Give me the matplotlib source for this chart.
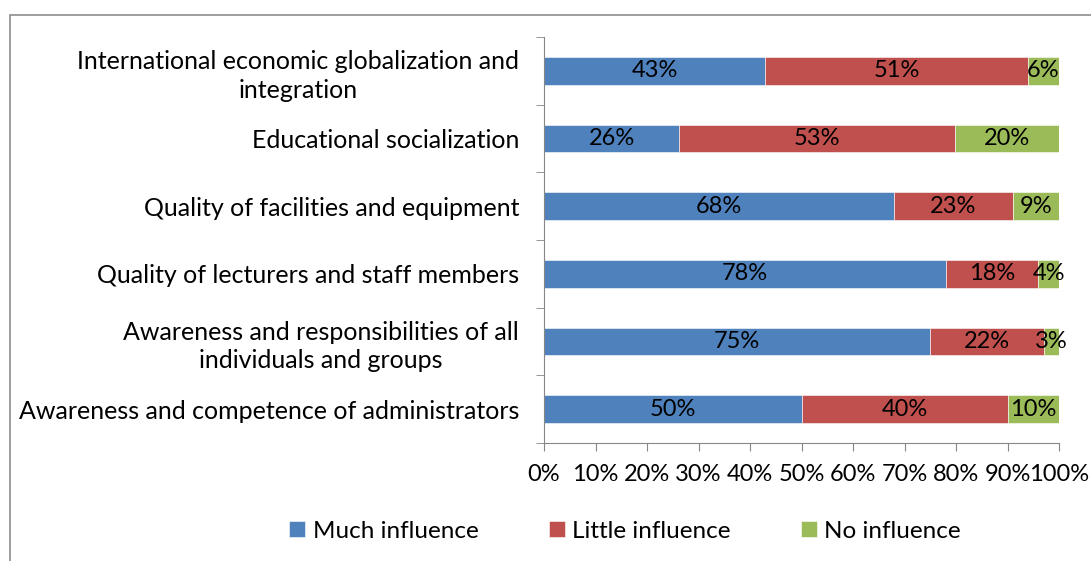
import matplotlib
matplotlib.use('Agg')
import matplotlib.pyplot as plt
import numpy as np
from matplotlib.patches import Rectangle

# categories, top to bottom as in the chart
categories = [
    'International economic globalization and\nintegration',
    'Educational socialization',
    'Quality of facilities and equipment',
    'Quality of lecturers and staff members',
    'Awareness and responsibilities of all\nindividuals and groups',
    'Awareness and competence of administrators',
]
much = [43, 26, 68, 78, 75, 50]
little = [51, 53, 23, 18, 22, 40]
none_ = [6, 20, 9, 4, 3, 10]
series_names = ['Much influence', 'Little influence', 'No influence']
colors = ['#4F81BD', '#C0504D', '#9BBB59']
xtick_labels = ['0%', '10%', '20%', '30%', '40%', '50%', '60%', '70%', '80%', '90%', '100%']

plt.rcParams['font.family'] = ['Lato', 'DejaVu Sans']
FS = 17

fig = plt.figure(figsize=(10.91, 5.61), dpi=100)
ax = fig.add_axes([544 / 1091, 118 / 561, 515 / 1091, 406 / 561])

# outer chart border (only top and left visible in the picture)
fig.patches.append(Rectangle((10 / 1091, -0.5), 2, 0.5 + (1 - 15 / 561),
                             transform=fig.transFigure, fill=False,
                             edgecolor='#8C8C8C', linewidth=1.2))

vals = np.array([much, little, none_], dtype=float)
tot = vals.sum(axis=0)
shares = vals / tot * 100
y = np.arange(len(categories))
left = np.zeros(len(categories))
for i in range(3):
    bars = ax.barh(y, shares[i], left=left, height=0.41, color=colors[i],
                   label=series_names[i], edgecolor='white', linewidth=0.4)
    for j, b in enumerate(bars):
        ax.text(left[j] + shares[i][j] / 2, y[j], '%d%%' % vals[i][j],
                ha='center', va='center', fontsize=FS, color='black')
    left += shares[i]

ax.set_xlim(0, 100)
ax.set_ylim(len(categories) - 0.5, -0.5)
ax.set_xticks(np.arange(0, 101, 10))
ax.set_xticklabels(xtick_labels, fontsize=FS)
ax.set_yticks(y)
ax.set_yticklabels(categories, fontsize=18, multialignment='center', linespacing=1.3)
ax.set_yticks(np.arange(-0.5, len(categories), 1), minor=True)
ax.tick_params(axis='y', which='major', length=0, pad=18)
ax.tick_params(axis='y', which='minor', length=6, color='#868686', direction='out')
ax.tick_params(axis='x', length=6, color='#868686', direction='out', pad=9)

for s in ['top', 'right']:
    ax.spines[s].set_visible(False)
for s in ['left', 'bottom']:
    ax.spines[s].set_color('#868686')

fig.legend(loc='center', bbox_to_anchor=(625 / 1091, 1 - 531 / 561), ncol=3,
           frameon=False, fontsize=17.5, handlelength=0.65, handleheight=0.65,
           handletextpad=0.3, columnspacing=2.9)

fig.savefig('out.png', dpi=100)
